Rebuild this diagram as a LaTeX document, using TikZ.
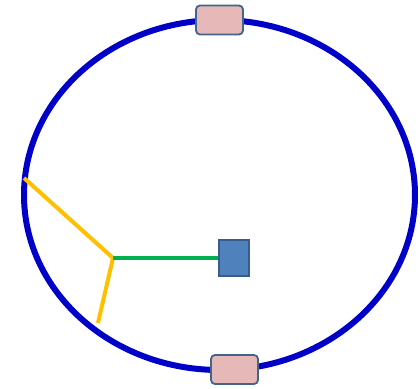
\documentclass[tikz,border=0pt]{standalone}
\usetikzlibrary{shapes.geometric}
\definecolor{ringblue}{HTML}{0000C8}
\definecolor{armyellow}{HTML}{FFC000}
\definecolor{armgreen}{HTML}{00B050}
\definecolor{boxblue}{HTML}{4F81BD}
\definecolor{boxblueedge}{HTML}{385D8A}
\definecolor{pinkfill}{HTML}{E6B9B8}
\definecolor{pinkedge}{HTML}{41648A}
\begin{document}
\begin{tikzpicture}[x=1pt,y=-1pt,
  ring/.style={ellipse,draw=ringblue,line width=6pt,minimum width=391pt,minimum height=350pt,inner sep=0pt},
  port/.style={rectangle,rounded corners=4pt,draw=pinkedge,fill=pinkfill,line width=1.8pt,minimum width=47pt,minimum height=29pt,inner sep=0pt},
  target/.style={rectangle,draw=boxblueedge,fill=boxblue,line width=1.5pt,minimum width=30pt,minimum height=36pt,inner sep=0pt},
  yarm/.style={draw=armyellow,line width=4pt},
  garm/.style={draw=armgreen,line width=4pt}]
\useasboundingbox (0,0) rectangle (420,388);
\node[ring] (ring) at (219.5,195) {};
\coordinate (hub) at (113,258);
\coordinate (ya) at (24,178);
\coordinate (yb) at (98,323);
\node[target] (tgt) at (234,258) {};
\draw[yarm] (ya) -- (hub) -- (yb);
\draw[garm] (hub) -- (tgt.west);
\node[port] (top) at (219.5,20) {};
\node[port] (bot) at (234.5,369.5) {};
\end{tikzpicture}
\end{document}
